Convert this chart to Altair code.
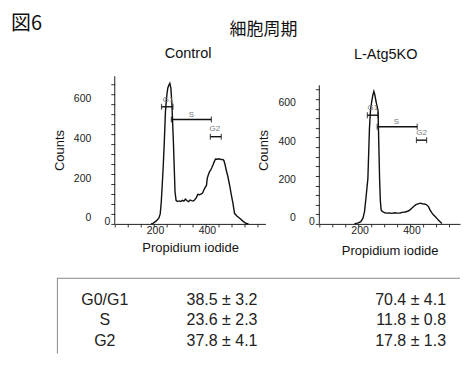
import altair as alt
import pandas as pd

# ---------------- data ----------------
# Control histogram (propidium iodide vs counts)
ctrl_x = [140, 147, 160, 170, 175, 179, 183, 187, 191, 195, 199, 204, 208, 212, 216,
          220, 223, 226, 229, 232, 236, 241, 248, 254, 260, 266, 272, 278, 284, 290,
          296, 302, 308, 314, 320, 326, 333, 338, 343, 348, 353, 356, 360, 365, 369,
          373, 378, 383, 388, 395, 402, 410, 416, 420, 425, 429, 435, 442, 448, 455,
          461, 470, 481, 493, 506, 515]
ctrl_y = [0, 3, 15, 30, 50, 110, 200, 300, 420, 560, 630, 680, 695, 705, 680,
          600, 500, 400, 280, 160, 118, 112, 115, 112, 118, 114, 124, 116, 112, 120,
          117, 115, 121, 132, 148, 146, 150, 155, 170, 183, 193, 228, 245, 262, 270,
          280, 295, 312, 325, 324, 326, 322, 323, 318, 295, 270, 240, 195, 150, 103,
          53, 40, 28, 14, 2, 0]

# L-Atg5KO histogram
ko_x = [135, 150, 160, 168, 174, 180, 187, 193, 197, 202, 206, 210, 214, 218, 222,
        226, 229, 232, 235, 238, 242, 246, 252, 260, 270, 280, 290, 300, 310, 320,
        330, 340, 348, 356, 364, 372, 380, 388, 396, 404, 412, 420, 426, 432, 439,
        446, 452, 458, 464, 472]
ko_y = [0, 5, 12, 30, 64, 140, 237, 497, 592, 640, 670, 690, 670, 640, 615,
        592, 420, 237, 120, 73, 65, 62, 58, 56, 57, 55, 58, 56, 57, 60,
        62, 66, 72, 82, 92, 100, 104, 108, 105, 104, 101, 90, 73, 60, 47,
        38, 30, 20, 12, 2]

# gate markers (G1, S, G2)
gate_names = ["G1", "S", "G2"]
ctrl_gate_start = [180, 218, 368]
ctrl_gate_end = [224, 372, 410]
ctrl_gate_y = [587, 523, 437]
ctrl_gate_lab_x = [205, 295, 385]
ctrl_gate_lab_y = [620, 548, 478]
ko_gate_start = [185, 223, 374]
ko_gate_end = [226, 377, 413]
ko_gate_y = [566, 506, 436]
ko_gate_lab_x = [206, 297, 394]
ko_gate_lab_y = [601, 532, 471]

# axes
ctrl_x_max = 580
ko_x_max = 541.6
ctrl_y_max = 740
ko_y_max = 769
ctrl_axis_top = 740
ko_axis_top = 722
y_tick_values = list(range(0, 701, 50))

# table
phases = ["G0/G1", "S", "G2"]
ctrl_pct = ["38.5 ± 3.2", "23.6 ± 2.3", "37.8 ± 4.1"]
ko_pct = ["70.4 ± 4.1", "11.8 ± 0.8", "17.8 ± 1.3"]

fig_label = "図6"
main_title = "細胞周期"
panel_titles = ["Control", "L-Atg5KO"]

FONT = "Liberation Sans"
JFONT = "Noto Sans CJK JP"
PX_PER_UNIT = 151 / 580
H = 148


def histogram(xs, ys, gs, ge, gy, lx, ly, xmax, ymax, axis_top, title, tdx, toff, xtpad):
    curve = pd.DataFrame({"pi": xs, "count": ys})
    yline_df = pd.DataFrame({"pi": [0], "count": [0], "count2": [axis_top]})
    gates = pd.DataFrame({"gate": gate_names, "pi": gs, "pi2": ge, "count": gy})
    caps = pd.DataFrame({"pi": gs + ge, "count": gy + gy})
    labs = pd.DataFrame({"gate": gate_names, "pi": lx, "count": ly})
    xsc = alt.Scale(domain=[0, xmax], nice=False)
    ysc = alt.Scale(domain=[0, ymax], nice=False)
    xaxis = alt.Axis(
        values=list(range(0, int(xmax) + 1, 50)),
        labelExpr="datum.value % 200 == 0 ? datum.label : ''",
        title="Propidium iodide", tickSize=3, labelAlign="right",
        labelFlush=False, labelOverlap=False,
        labelOffset={"condition": {"test": "datum.value == 0", "value": -5}, "value": -3},
        labelPadding={"condition": {"test": "datum.value == 0", "value": -10}, "value": -1},
        titlePadding=xtpad,
    )
    yaxis = alt.Axis(
        values=y_tick_values,
        labelExpr="datum.value % 200 == 0 ? datum.label : ''",
        title="Counts", tickSize=4, labelPadding=20, labelBaseline="alphabetic",
        labelOffset=-3, labelFlush=False, labelOverlap=False, domain=False,
        titlePadding=7,
    )
    X = alt.X("pi:Q", scale=xsc, axis=xaxis)
    Y = alt.Y("count:Q", scale=ysc, axis=yaxis)
    line = alt.Chart(curve).mark_line(color="#111", strokeWidth=1.4).encode(
        x=X, y=Y, order="pi:Q")
    yline = alt.Chart(yline_df).mark_rule(color="#222", strokeWidth=1).encode(
        x=X, y=Y, y2="count2:Q")
    bars = alt.Chart(gates).mark_rule(color="#111", strokeWidth=1.4).encode(
        x=X, x2="pi2:Q", y=Y)
    capm = alt.Chart(caps).mark_tick(orient="vertical", size=6, thickness=1.2, color="#111").encode(
        x=X, y=Y)
    labm = alt.Chart(labs).mark_text(fontSize=8, font=FONT, color="#777", baseline="middle").encode(
        x=X, y=Y, text="gate:N")
    return alt.layer(line, yline, bars, capm, labm).properties(
        width=round(xmax * PX_PER_UNIT, 2), height=H,
        title=alt.TitleParams(title, dx=tdx, offset=toff, frame="group", anchor="middle",
                              fontSize=14.5, font=FONT, fontWeight="normal", color="#111"))


left = histogram(ctrl_x, ctrl_y, ctrl_gate_start, ctrl_gate_end, ctrl_gate_y,
                 ctrl_gate_lab_x, ctrl_gate_lab_y, ctrl_x_max, ctrl_y_max, ctrl_axis_top,
                 panel_titles[0], -2, 12, 5)
right = histogram(ko_x, ko_y, ko_gate_start, ko_gate_end, ko_gate_y,
                  ko_gate_lab_x, ko_gate_lab_y, ko_x_max, ko_y_max, ko_axis_top,
                  panel_titles[1], -4, 14, 8)

# ---------------- table ----------------
tbl = pd.DataFrame({"phase": phases, "row": list(range(len(phases))),
                    "ctrl": ctrl_pct, "ko": ko_pct})
tbase = alt.Chart(tbl).encode(
    y=alt.Y("row:Q", axis=None, scale=alt.Scale(domain=[-1.073, 2.634], reverse=True, nice=False, zero=False)))
tcol1 = tbase.mark_text(align="center", baseline="middle", fontSize=16, font=FONT, color="#222").encode(
    x=alt.value(-10), text="phase:N")
tcol2 = tbase.mark_text(align="right", baseline="middle", fontSize=16, font=FONT, color="#222").encode(
    x=alt.value(143), text="ctrl:N")
tcol3 = tbase.mark_text(align="right", baseline="middle", fontSize=16, font=FONT, color="#222").encode(
    x=alt.value(332), text="ko:N")
one = pd.DataFrame({"k": [0]})
top_rule = alt.Chart(one).mark_rule(color="#8a8a8a", strokeWidth=1).encode(
    x=alt.value(-57.5), x2=alt.value(346), y=alt.value(0.5))
left_rule = alt.Chart(one).mark_rule(color="#8a8a8a", strokeWidth=1).encode(
    x=alt.value(-57.5), y=alt.value(0), y2=alt.value(76))
fig_text = alt.Chart(one).mark_text(align="left", baseline="middle", fontSize=20, font=JFONT,
                                    color="#111").encode(
    x=alt.value(-104), y=alt.value(-254), text=alt.value(fig_label))
title_text = alt.Chart(one).mark_text(align="center", baseline="middle", fontSize=17, font=JFONT,
                                      color="#111").encode(
    x=alt.value(149), y=alt.value(-248), text=alt.value(main_title))
table = alt.layer(top_rule, left_rule, tcol1, tcol2, tcol3, fig_text, title_text).properties(
    width=151, height=76)

chart = alt.concat(left, right, table, columns=2, spacing=54, bounds="flush", align="none").properties(
    padding={"left": 3, "top": 6, "right": 0, "bottom": 0}
).configure_view(stroke=None).configure_axis(
    domainColor="#222", tickColor="#333", labelColor="#222", titleColor="#111",
    labelFont=FONT, titleFont=FONT, labelFontSize=10.5, titleFontSize=13,
    titleFontWeight="normal", grid=False, domainWidth=1, tickWidth=1,
)

chart.save("out.html", embed_options={"renderer": "svg", "actions": False})
